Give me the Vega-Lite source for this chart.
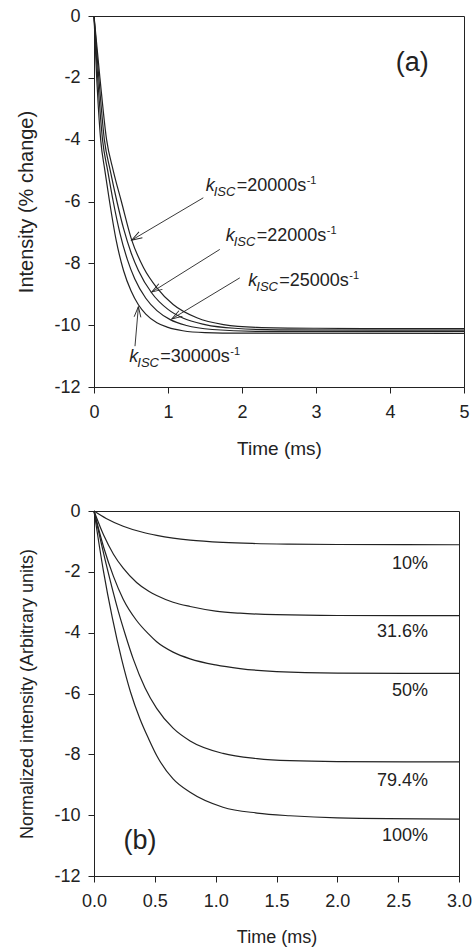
{
  "$schema": "https://vega.github.io/schema/vega-lite/v6.json",
  "padding": {"left": 16, "top": 6, "right": 6, "bottom": 0},
  "config": {
    "font": "Liberation Sans",
    "view": {"stroke": "#222", "strokeWidth": 1},
    "axis": {"domainColor": "#222", "tickColor": "#222", "labelColor": "#222", "titleColor": "#222", "labelFontSize": 18, "titleFontSize": 18, "titleFontWeight": 400, "grid": false, "tickSize": 6, "labelFlush": false},
    "axisX": {"titlePadding": 18, "labelPadding": 10},
    "axisY": {"titlePadding": 17, "labelPadding": 8},
    "concat": {"spacing": 42}
  },
  "datasets": {
    "curvesA": [
      {"k": "20000", "t": 0, "v": 0}, {"k": "20000", "t": 0.08, "v": -2}, {"k": "20000", "t": 0.17, "v": -4}, {"k": "20000", "t": 0.26, "v": -5}, {"k": "20000", "t": 0.37, "v": -6}, {"k": "20000", "t": 0.51, "v": -7.25}, {"k": "20000", "t": 0.67, "v": -8.14}, {"k": "20000", "t": 0.85, "v": -8.79}, {"k": "20000", "t": 1.07, "v": -9.33}, {"k": "20000", "t": 1.39, "v": -9.76}, {"k": "20000", "t": 1.75, "v": -9.98}, {"k": "20000", "t": 2.2, "v": -10.07}, {"k": "20000", "t": 3, "v": -10.1}, {"k": "20000", "t": 4, "v": -10.11}, {"k": "20000", "t": 5, "v": -10.11},
      {"k": "22000", "t": 0, "v": 0}, {"k": "22000", "t": 0.065, "v": -2}, {"k": "22000", "t": 0.14, "v": -4}, {"k": "22000", "t": 0.22, "v": -5}, {"k": "22000", "t": 0.31, "v": -6}, {"k": "22000", "t": 0.4, "v": -6.88}, {"k": "22000", "t": 0.5, "v": -7.65}, {"k": "22000", "t": 0.6, "v": -8.23}, {"k": "22000", "t": 0.78, "v": -8.96}, {"k": "22000", "t": 1.0, "v": -9.49}, {"k": "22000", "t": 1.2, "v": -9.77}, {"k": "22000", "t": 1.5, "v": -9.98}, {"k": "22000", "t": 1.9, "v": -10.1}, {"k": "22000", "t": 2.5, "v": -10.15}, {"k": "22000", "t": 5, "v": -10.16},
      {"k": "25000", "t": 0, "v": 0}, {"k": "25000", "t": 0.05, "v": -2}, {"k": "25000", "t": 0.115, "v": -4}, {"k": "25000", "t": 0.185, "v": -5}, {"k": "25000", "t": 0.26, "v": -6}, {"k": "25000", "t": 0.35, "v": -7.02}, {"k": "25000", "t": 0.45, "v": -7.87}, {"k": "25000", "t": 0.55, "v": -8.5}, {"k": "25000", "t": 0.7, "v": -9.13}, {"k": "25000", "t": 0.85, "v": -9.53}, {"k": "25000", "t": 1.03, "v": -9.82}, {"k": "25000", "t": 1.25, "v": -10.01}, {"k": "25000", "t": 1.6, "v": -10.14}, {"k": "25000", "t": 2.2, "v": -10.2}, {"k": "25000", "t": 5, "v": -10.21},
      {"k": "30000", "t": 0, "v": 0}, {"k": "30000", "t": 0.036, "v": -2}, {"k": "30000", "t": 0.06, "v": -3}, {"k": "30000", "t": 0.09, "v": -4}, {"k": "30000", "t": 0.147, "v": -5}, {"k": "30000", "t": 0.21, "v": -6}, {"k": "30000", "t": 0.3, "v": -7.26}, {"k": "30000", "t": 0.4, "v": -8.24}, {"k": "30000", "t": 0.5, "v": -8.89}, {"k": "30000", "t": 0.6, "v": -9.34}, {"k": "30000", "t": 0.7, "v": -9.64}, {"k": "30000", "t": 0.85, "v": -9.92}, {"k": "30000", "t": 1.0, "v": -10.07}, {"k": "30000", "t": 1.2, "v": -10.18}, {"k": "30000", "t": 1.5, "v": -10.24}, {"k": "30000", "t": 2, "v": -10.26}, {"k": "30000", "t": 5, "v": -10.27}
    ],
    "arrowsA": [
      {"t": 1.477, "v": -5.88, "t2": 0.509, "v2": -7.25},
      {"t": 1.70, "v": -7.55, "t2": 0.78, "v2": -8.93},
      {"t": 1.97, "v": -8.47, "t2": 1.05, "v2": -9.8},
      {"t": 0.554, "v": -10.68, "t2": 0.6, "v2": -9.4}
    ],
    "labelsA": [
      {"t": 1.509, "v": -5.66, "val": "=20000s"},
      {"t": 1.78, "v": -7.28, "val": "=22000s"},
      {"t": 2.085, "v": -8.73, "val": "=25000s"},
      {"t": 0.477, "v": -11.19, "val": "=30000s"}
    ],
    "curvesB": [
      {"p": "10%", "t": 0, "v": 0}, {"p": "10%", "t": 0.1, "v": -0.245}, {"p": "10%", "t": 0.24, "v": -0.5}, {"p": "10%", "t": 0.4, "v": -0.7}, {"p": "10%", "t": 0.515, "v": -0.8}, {"p": "10%", "t": 0.65, "v": -0.89}, {"p": "10%", "t": 0.79, "v": -0.956}, {"p": "10%", "t": 1.06, "v": -1.03}, {"p": "10%", "t": 1.3, "v": -1.067}, {"p": "10%", "t": 1.6, "v": -1.09}, {"p": "10%", "t": 2.0, "v": -1.102}, {"p": "10%", "t": 3.0, "v": -1.11},
      {"p": "31.6%", "t": 0, "v": 0}, {"p": "31.6%", "t": 0.08, "v": -0.8}, {"p": "31.6%", "t": 0.16, "v": -1.42}, {"p": "31.6%", "t": 0.24, "v": -1.88}, {"p": "31.6%", "t": 0.35, "v": -2.35}, {"p": "31.6%", "t": 0.45, "v": -2.64}, {"p": "31.6%", "t": 0.515, "v": -2.78}, {"p": "31.6%", "t": 0.65, "v": -3.0}, {"p": "31.6%", "t": 0.79, "v": -3.14}, {"p": "31.6%", "t": 1.0, "v": -3.29}, {"p": "31.6%", "t": 1.2, "v": -3.36}, {"p": "31.6%", "t": 1.5, "v": -3.41}, {"p": "31.6%", "t": 2.0, "v": -3.435}, {"p": "31.6%", "t": 3.0, "v": -3.44},
      {"p": "50%", "t": 0, "v": 0}, {"p": "50%", "t": 0.08, "v": -1.2}, {"p": "50%", "t": 0.16, "v": -2.15}, {"p": "50%", "t": 0.24, "v": -2.9}, {"p": "50%", "t": 0.35, "v": -3.6}, {"p": "50%", "t": 0.45, "v": -4.05}, {"p": "50%", "t": 0.515, "v": -4.3}, {"p": "50%", "t": 0.65, "v": -4.64}, {"p": "50%", "t": 0.79, "v": -4.86}, {"p": "50%", "t": 1.0, "v": -5.06}, {"p": "50%", "t": 1.2, "v": -5.18}, {"p": "50%", "t": 1.5, "v": -5.28}, {"p": "50%", "t": 2.0, "v": -5.33}, {"p": "50%", "t": 3.0, "v": -5.34},
      {"p": "79.4%", "t": 0, "v": 0}, {"p": "79.4%", "t": 0.1, "v": -1.75}, {"p": "79.4%", "t": 0.2, "v": -3.3}, {"p": "79.4%", "t": 0.26, "v": -4.1}, {"p": "79.4%", "t": 0.323, "v": -4.87}, {"p": "79.4%", "t": 0.42, "v": -5.82}, {"p": "79.4%", "t": 0.515, "v": -6.49}, {"p": "79.4%", "t": 0.65, "v": -7.14}, {"p": "79.4%", "t": 0.79, "v": -7.56}, {"p": "79.4%", "t": 1.06, "v": -7.97}, {"p": "79.4%", "t": 1.34, "v": -8.14}, {"p": "79.4%", "t": 1.61, "v": -8.21}, {"p": "79.4%", "t": 2.0, "v": -8.24}, {"p": "79.4%", "t": 3.0, "v": -8.25},
      {"p": "100%", "t": 0, "v": 0}, {"p": "100%", "t": 0.077, "v": -1.96}, {"p": "100%", "t": 0.15, "v": -3.5}, {"p": "100%", "t": 0.227, "v": -4.87}, {"p": "100%", "t": 0.3, "v": -5.95}, {"p": "100%", "t": 0.378, "v": -6.84}, {"p": "100%", "t": 0.45, "v": -7.5}, {"p": "100%", "t": 0.515, "v": -8.04}, {"p": "100%", "t": 0.65, "v": -8.81}, {"p": "100%", "t": 0.79, "v": -9.25}, {"p": "100%", "t": 1.06, "v": -9.74}, {"p": "100%", "t": 1.34, "v": -9.93}, {"p": "100%", "t": 1.61, "v": -10.02}, {"p": "100%", "t": 2.0, "v": -10.09}, {"p": "100%", "t": 3.0, "v": -10.13}
    ],
    "labelsB": [
      {"t": 2.745, "v": -1.73, "p": "10%"},
      {"t": 2.745, "v": -3.97, "p": "31.6%"},
      {"t": 2.745, "v": -5.91, "p": "50%"},
      {"t": 2.745, "v": -8.87, "p": "79.4%"},
      {"t": 2.745, "v": -10.7, "p": "100%"}
    ],
    "panelA": [{"t": 4.3, "v": -1.52, "txt": "(a)"}],
    "panelB": [{"t": 0.378, "v": -10.85, "txt": "(b)"}]
  },
  "vconcat": [
    {
      "width": 370,
      "height": 371,
      "encoding": {
        "x": {"type": "quantitative", "scale": {"domain": [0, 5], "nice": false}, "axis": {"values": [0, 1, 2, 3, 4, 5], "title": "Time (ms)", "titleFontSize": 19, "titleFontWeight": 400, "labelFlush": false}},
        "y": {"type": "quantitative", "scale": {"domain": [-12, 0], "nice": false}, "axis": {"values": [-12, -10, -8, -6, -4, -2, 0], "title": "Intensity (% change)", "titleFontSize": 20, "titleFontWeight": 400, "labelExpr": "replace(datum.label, '\u2212', '-')"}}
      },
      "layer": [
        {
          "data": {"name": "curvesA"},
          "mark": {"type": "line", "color": "#222", "strokeWidth": 1.2, "interpolate": "monotone"},
          "encoding": {"x": {"field": "t"}, "y": {"field": "v"}, "detail": {"field": "k"}}
        },
        {
          "data": {"name": "arrowsA"},
          "mark": {"type": "rule", "color": "#222", "strokeWidth": 0.9},
          "encoding": {"x": {"field": "t"}, "y": {"field": "v"}, "x2": {"field": "t2"}, "y2": {"field": "v2"}}
        },
        {
          "data": {"name": "arrowsA"},
          "transform": [{"calculate": "atan2(-(datum.v2 - datum.v) * 30.92, (datum.t2 - datum.t) * 74) * 180 / PI", "as": "ang"}],
          "mark": {"type": "point", "shape": "M -1 -0.32 L 0 0 L -1 0.32", "filled": false, "color": "#222", "strokeWidth": 0.9, "size": 440, "opacity": 1},
          "encoding": {"x": {"field": "t2"}, "y": {"field": "v2"}, "angle": {"field": "ang", "type": "quantitative", "scale": null}}
        },
        {
          "data": {"name": "labelsA"},
          "mark": {"type": "text", "text": "k", "fontStyle": "italic", "fontSize": 18, "align": "left", "baseline": "alphabetic", "color": "#222"},
          "encoding": {"x": {"field": "t"}, "y": {"field": "v"}}
        },
        {
          "data": {"name": "labelsA"},
          "mark": {"type": "text", "text": "ISC", "fontStyle": "italic", "fontSize": 13, "align": "left", "baseline": "alphabetic", "dx": 8, "dy": 5, "color": "#222"},
          "encoding": {"x": {"field": "t"}, "y": {"field": "v"}}
        },
        {
          "data": {"name": "labelsA"},
          "mark": {"type": "text", "fontSize": 18, "align": "left", "baseline": "alphabetic", "dx": 31, "color": "#222"},
          "encoding": {"x": {"field": "t"}, "y": {"field": "v"}, "text": {"field": "val"}}
        },
        {
          "data": {"name": "labelsA"},
          "mark": {"type": "text", "text": "-1", "fontSize": 11, "align": "left", "baseline": "alphabetic", "dx": 101, "dy": -7, "color": "#222"},
          "encoding": {"x": {"field": "t"}, "y": {"field": "v"}}
        },
        {
          "data": {"name": "panelA"},
          "mark": {"type": "text", "fontSize": 27, "align": "center", "baseline": "middle", "color": "#222"},
          "encoding": {"x": {"field": "t"}, "y": {"field": "v"}, "text": {"field": "txt"}}
        }
      ]
    },
    {
      "width": 365,
      "height": 365,
      "encoding": {
        "x": {"type": "quantitative", "scale": {"domain": [0, 3], "nice": false}, "axis": {"values": [0, 0.5, 1, 1.5, 2, 2.5, 3], "format": ".1f", "title": "Time (ms)", "titleFontWeight": 400, "labelFlush": false}},
        "y": {"type": "quantitative", "scale": {"domain": [-12, 0], "nice": false}, "axis": {"values": [-12, -10, -8, -6, -4, -2, 0], "title": "Normalized intensity (Arbitrary units)", "titleFontWeight": 400, "labelExpr": "replace(datum.label, '\u2212', '-')"}}
      },
      "layer": [
        {
          "data": {"name": "curvesB"},
          "mark": {"type": "line", "color": "#222", "strokeWidth": 1.2, "interpolate": "monotone"},
          "encoding": {"x": {"field": "t"}, "y": {"field": "v"}, "detail": {"field": "p"}}
        },
        {
          "data": {"name": "labelsB"},
          "mark": {"type": "text", "fontSize": 18, "align": "right", "baseline": "middle", "color": "#222"},
          "encoding": {"x": {"field": "t"}, "y": {"field": "v"}, "text": {"field": "p"}}
        },
        {
          "data": {"name": "panelB"},
          "mark": {"type": "text", "fontSize": 27, "align": "center", "baseline": "middle", "color": "#222"},
          "encoding": {"x": {"field": "t"}, "y": {"field": "v"}, "text": {"field": "txt"}}
        }
      ]
    }
  ]
}
